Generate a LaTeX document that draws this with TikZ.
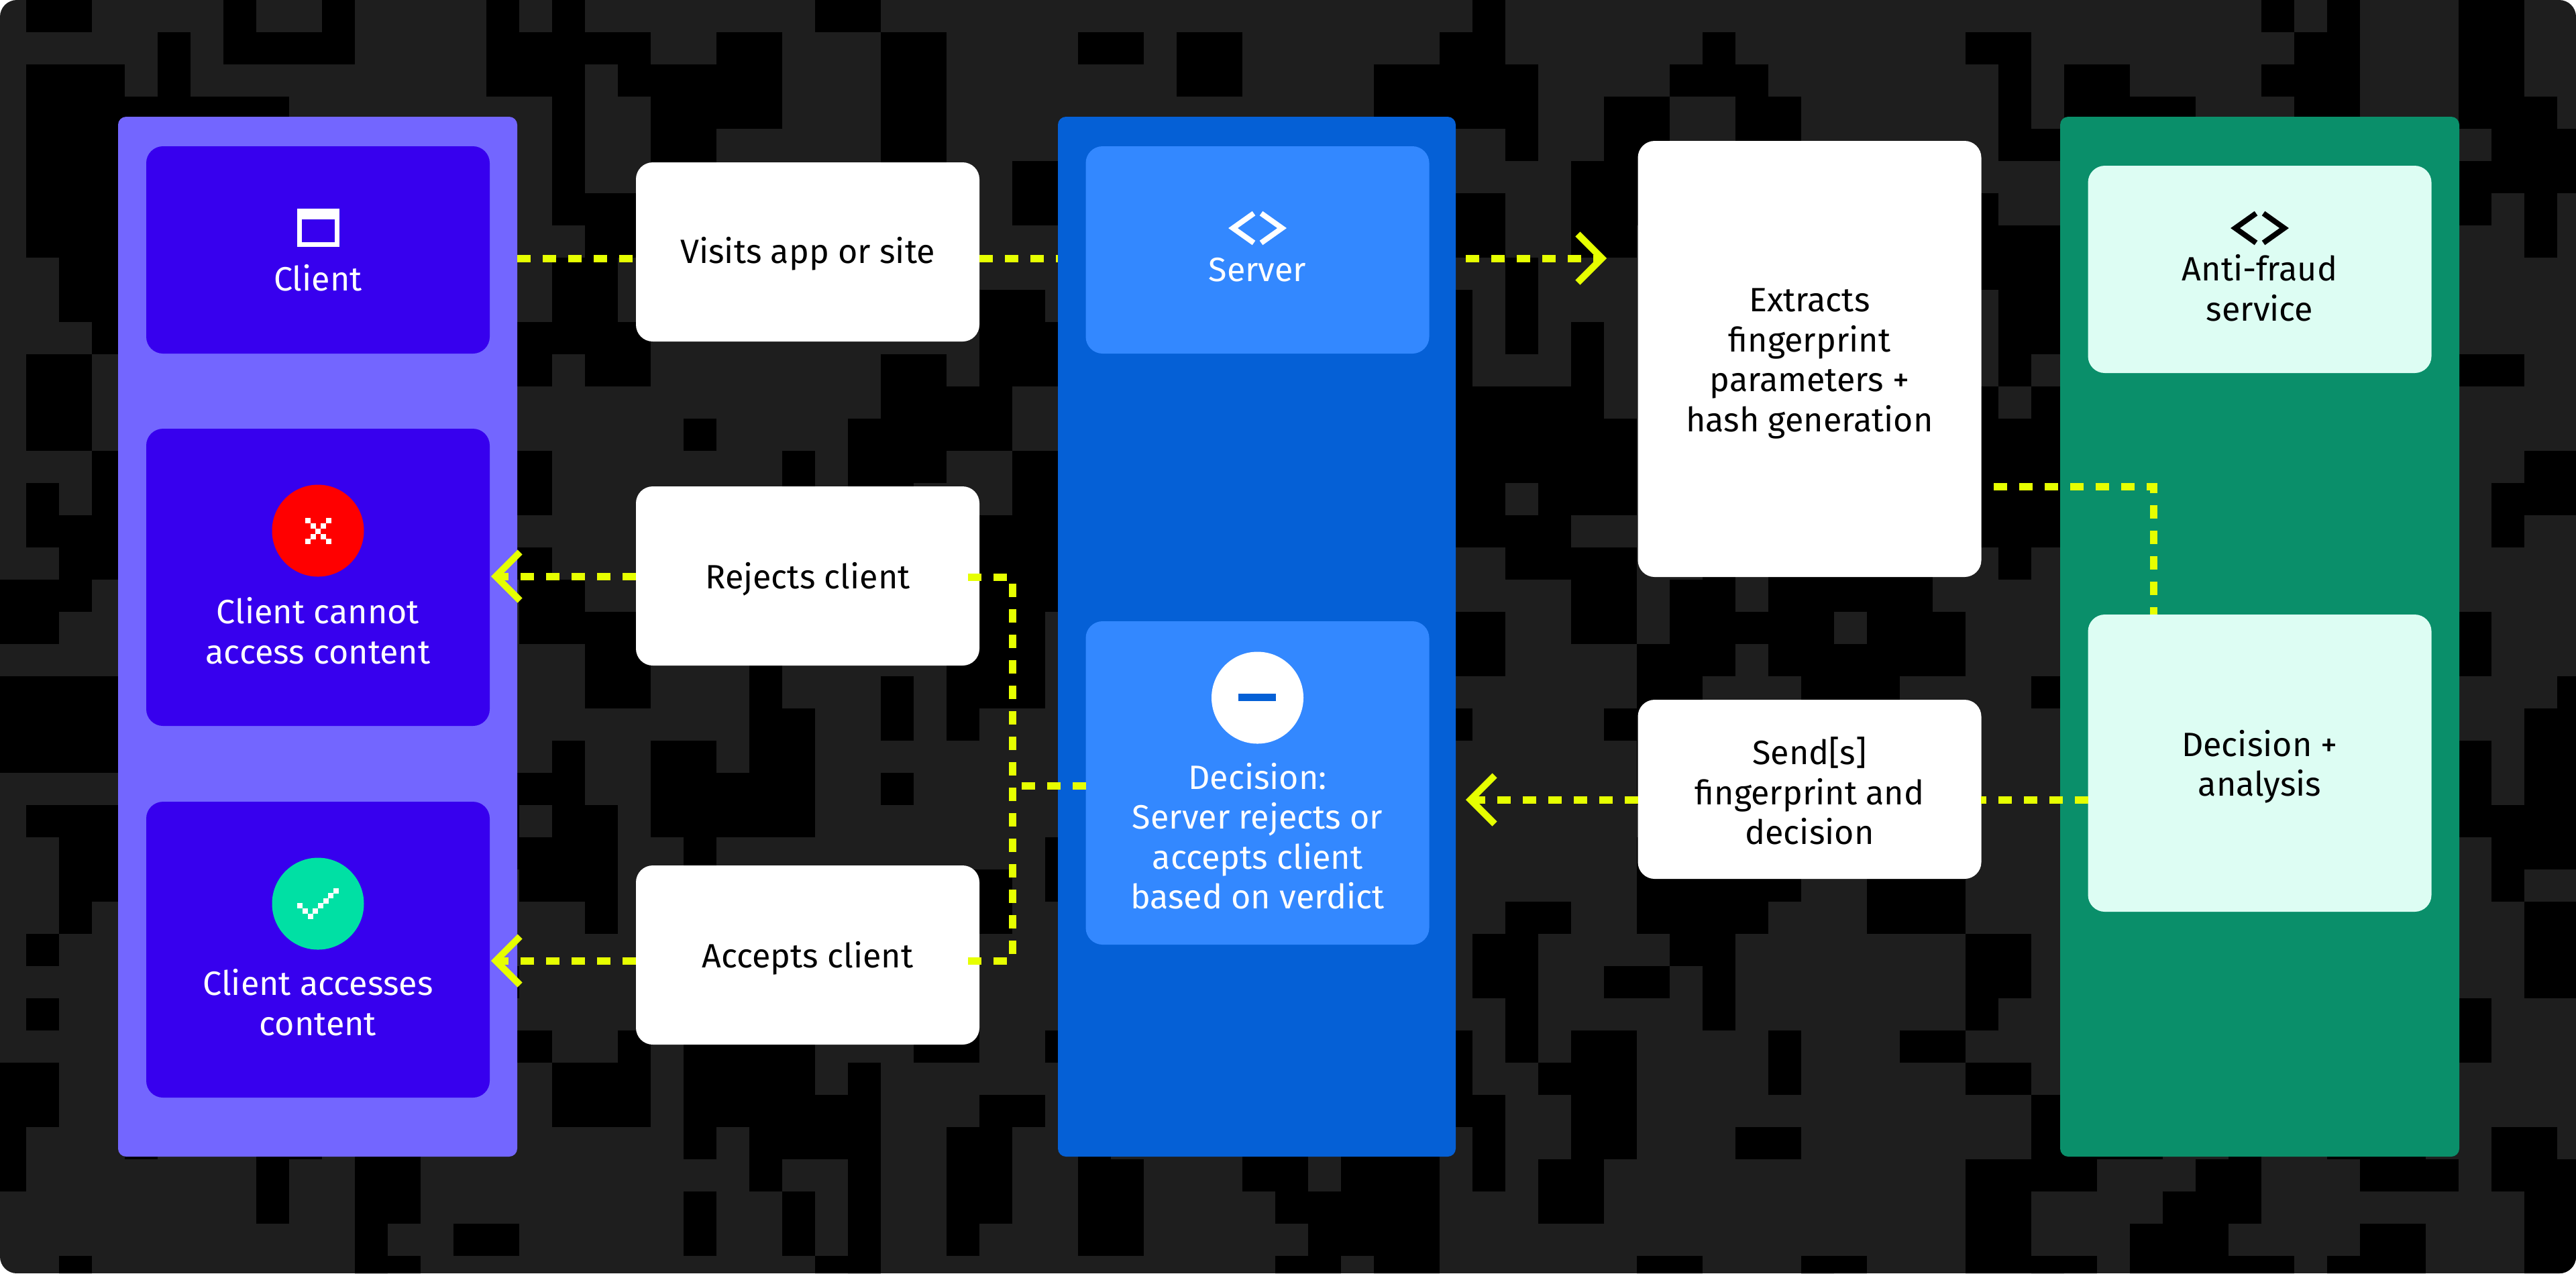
\documentclass[tikz,border=0pt]{standalone}
\usepackage{fontspec}
\setmainfont{Fira Sans}
\usetikzlibrary{arrows.meta}

\definecolor{canvasgray}{HTML}{1E1E1E}
\definecolor{clientpanelc}{HTML}{7366FF}
\definecolor{clientblockc}{HTML}{3700EE}
\definecolor{serverpanelc}{HTML}{0560D6}
\definecolor{serverblockc}{HTML}{3388FF}
\definecolor{fraudpanelc}{HTML}{0A8F6A}
\definecolor{fraudblockc}{HTML}{DDFDF3}
\definecolor{flowc}{HTML}{E6FF00}
\definecolor{rejectc}{HTML}{FF0000}
\definecolor{acceptc}{HTML}{00E0A4}

\tikzset{
	panel/.style={rectangle,rounded corners=0.12cm,inner sep=0,outer sep=0,minimum width=5.95cm,minimum height=15.5cm},
	block/.style={rectangle,rounded corners=0.25cm,inner sep=0,outer sep=0,minimum width=5.12cm},
	whitebox/.style={block,fill=white,minimum height=2.67cm},
	blocktext/.style={inner sep=0,align=center,font=\fontsize{14.3}{16.9}\selectfont},
	badge/.style={circle,inner sep=0,minimum size=1.37cm},
	flow/.style={flowc,line width=0.11cm,dash pattern=on 0.2cm off 0.18cm},
	flowarrow/.style={flow,-{Straight Barb[length=0.36cm,width=0.72cm,line width=0.1cm]}},
}

\begin{document}
\begin{tikzpicture}[x=1cm,y=-1cm]
	\useasboundingbox (0,0) rectangle (38.4,18.98);

%% Canvas
	\fill[white] (0,0) rectangle (38.4,18.98);
	\begin{scope}
	\clip[rounded corners=0.25cm] (0,0) rectangle (38.4,18.98);
	\fill[canvasgray] (0,0) rectangle (38.4,18.98);
	\pgfmathsetseed{23}
	\foreach \i in {1,...,560}{
		\pgfmathsetmacro{\cx}{0.49*(random(0,78)-0.2)}
		\pgfmathsetmacro{\cy}{0.48*random(0,39)}
		\pgfmathsetmacro{\cw}{0.49*random(1,2)}
		\pgfmathsetmacro{\ch}{0.48*random(1,3)}
		\fill[black] (\cx,\cy) rectangle ++(\cw,\ch);
	}
	\end{scope}

%% Panels
	\draw (4.735,9.49) node[panel,fill=clientpanelc] (clientpanel){};
	\draw (18.735,9.49) node[panel,fill=serverpanelc,minimum width=5.93cm] (serverpanel){};
	\draw (33.685,9.49) node[panel,fill=fraudpanelc] (fraudpanel){};

%% Client column
	\draw (4.74,3.725) node[block,fill=clientblockc,minimum height=3.09cm] (client){};
	\draw (4.74,8.605) node[block,fill=clientblockc,minimum height=4.43cm] (cannot){};
	\draw (4.74,14.155) node[block,fill=clientblockc,minimum height=4.41cm] (accesses){};
	\draw[white,line width=0.07cm] (4.465,3.145) rectangle (5.025,3.645);
	\fill[white] (4.43,3.11) rectangle (5.06,3.27);
	\draw (4.74,4.14) node[blocktext,text=white] (clienttext){Client};
	\draw (4.74,7.91) node[badge,fill=rejectc] (rejectbadge){};
	\foreach \px/\py in {4.59/7.76,4.90/7.76,4.67/7.84,4.82/7.84,4.74/7.92,4.67/8.00,4.82/8.00,4.59/8.07,4.90/8.07}
		\fill[white] (\px-0.04,\py-0.04) rectangle ++(0.08,0.08);
	\draw (4.74,9.4) node[blocktext,text=white] (cannottext){Client cannot\\access content};
	\draw (4.74,13.47) node[badge,fill=acceptc] (acceptbadge){};
	\foreach \px/\py in {4.47/13.50,4.55/13.58,4.63/13.66,4.70/13.58,4.78/13.50,4.86/13.43,4.93/13.35,5.01/13.28}
		\fill[white] (\px-0.04,\py-0.04) rectangle ++(0.08,0.08);
	\draw (4.74,14.94) node[blocktext,text=white] (accessestext){Client accesses\\content};

%% Requests
	\draw (12.04,3.755) node[whitebox] (visits){};
	\draw (12.04,8.585) node[whitebox] (rejects){};
	\draw (12.04,14.235) node[whitebox] (accepts){};
	\draw (12.04,3.78) node[blocktext] (visitstext){Visits app or site};
	\draw (12.04,8.635) node[blocktext] (rejectstext){Rejects client};
	\draw (12.04,14.285) node[blocktext] (acceptstext){Accepts client};

%% Server column
	\draw (18.745,3.725) node[block,fill=serverblockc,minimum height=3.09cm] (server){};
	\draw (18.745,11.67) node[block,fill=serverblockc,minimum height=4.82cm] (decision){};
	\draw[white,line width=0.08cm] (18.69,3.18) -- (18.38,3.4) -- (18.69,3.62);
	\draw[white,line width=0.08cm] (18.80,3.18) -- (19.11,3.4) -- (18.80,3.62);
	\draw (18.745,4.02) node[blocktext,text=white] (servertext){Server};
	\draw (18.745,10.4) node[badge,fill=white] (decisionbadge){};
	\fill[serverpanelc] (18.46,10.34) rectangle (19.02,10.45);
	\draw (18.745,12.46) node[blocktext,text=white] (decisiontext){Decision:\\Server rejects or\\accepts client\\based on verdict};

%% Fingerprint
	\draw (26.975,5.35) node[whitebox,minimum height=6.5cm] (extracts){};
	\draw (26.975,11.765) node[whitebox] (send){};
	\draw (26.975,5.42) node[blocktext] (extractstext){Extracts\\fingerprint\\parameters +\\hash generation};
	\draw (26.975,11.79) node[blocktext] (sendtext){Send[s]\\fingerprint and\\decision};

%% Anti-fraud column
	\draw (33.685,4.015) node[block,fill=fraudblockc,minimum height=3.09cm] (fraud){};
	\draw (33.685,11.375) node[block,fill=fraudblockc,minimum height=4.43cm] (analysis){};
	\draw[black,line width=0.08cm] (33.63,3.18) -- (33.32,3.4) -- (33.63,3.62);
	\draw[black,line width=0.08cm] (33.74,3.18) -- (34.05,3.4) -- (33.74,3.62);
	\draw (33.685,4.29) node[blocktext,text=black] (fraudtext){Anti-fraud\\service};
	\draw (33.685,11.425) node[blocktext,text=black] (analysistext){Decision +\\analysis};

%% Connectors
	\coordinate (visitsin) at (9.48,3.85);
	\coordinate (visitsout) at (14.6,3.85);
	\coordinate (serverout) at (21.85,3.85);
	\coordinate (extractsin) at (23.95,3.85);
	\coordinate (rejectsin) at (9.48,8.59);
	\coordinate (rejecttip) at (7.32,8.59);
	\coordinate (acceptsin) at (9.48,14.32);
	\coordinate (accepttip) at (7.32,14.32);
	\coordinate (rejectsout) at (14.43,8.6);
	\coordinate (busup) at (15.09,8.6);
	\coordinate (acceptsout) at (14.43,14.32);
	\coordinate (busdown) at (15.09,14.32);
	\coordinate (busmid) at (15.09,11.71);
	\coordinate (extractsout) at (29.72,7.25);
	\coordinate (fraudbend) at (32.1,7.25);
	\coordinate (sendin) at (29.53,11.92);
	\coordinate (analysisout) at (31.13,11.92);
	\coordinate (sendout) at (24.42,11.92);
	\coordinate (sendtip) at (21.85,11.92);

	\draw[flow] (clientpanel.east |- visitsin) -- (visitsin);
	\draw[flow] (visitsout) -- (serverpanel.west |- visitsout);
	\draw[flowarrow] (serverout) -- (extractsin);
	\draw[flowarrow] (rejectsin) -- (rejecttip);
	\draw[flowarrow] (acceptsin) -- (accepttip);
	\draw[flow] (rejectsout) -- (busup) -- (busdown) -- (acceptsout);
	\draw[flow] (decision.west |- busmid) -- (busmid);
	\draw[flow] (extractsout) -- (fraudbend) -- (fraudbend |- analysis.north);
	\draw[flow] (analysisout) -- (sendin);
	\draw[flowarrow] (sendout) -- (sendtip);
\end{tikzpicture}
\end{document}
